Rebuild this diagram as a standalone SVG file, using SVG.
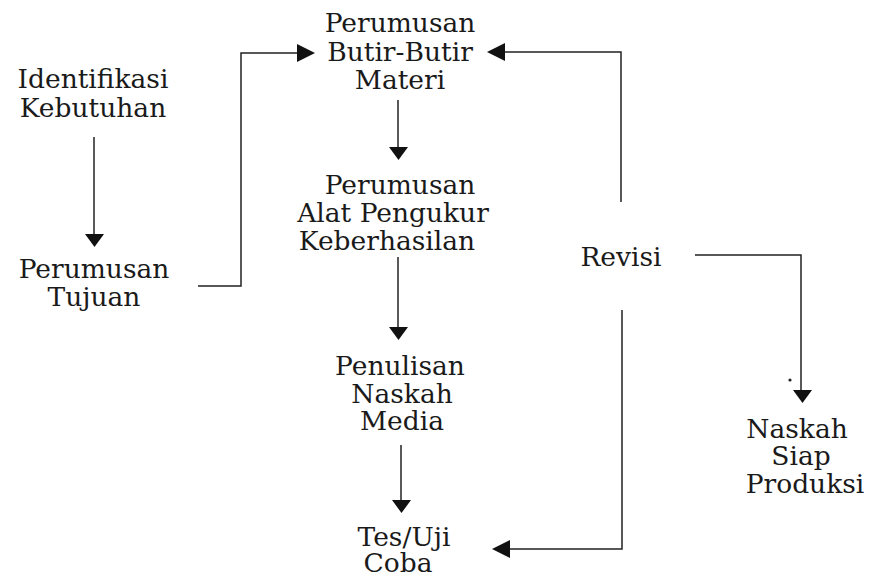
<svg xmlns="http://www.w3.org/2000/svg" width="873" height="577" viewBox="0 0 873 577">
<style>
text{font-family:"DejaVu Serif","Liberation Serif",serif;font-size:26.5px;fill:#1a1a1a;text-anchor:middle}
.c{fill:none;stroke:#222;stroke-width:1.5}
.h{fill:#111}
</style>
<rect width="873" height="577" fill="#fff"/>
<g id="n1"><text x="93" y="88">Identifikasi</text><text x="93" y="117">Kebutuhan</text></g>
<g id="n2"><text x="94" y="278">Perumusan</text><text x="94" y="306">Tujuan</text></g>
<g id="n3"><text x="400" y="32">Perumusan</text><text x="400" y="61">Butir-Butir</text><text x="400" y="89">Materi</text></g>
<g id="n4"><text x="400" y="194">Perumusan</text><text x="393" y="222">Alat Pengukur</text><text x="387" y="250">Keberhasilan</text></g>
<g id="n5"><text x="400" y="375">Penulisan</text><text x="402" y="403">Naskah</text><text x="402" y="430">Media</text></g>
<g id="n6"><text x="404" y="546">Tes/Uji</text><text x="398" y="572">Coba</text></g>
<g id="n7"><text x="621" y="266">Revisi</text></g>
<g id="n8"><text x="797" y="438">Naskah</text><text x="801" y="465">Siap</text><text x="805" y="493">Produksi</text></g>
<g id="connectors">
<path class="c" d="M94 137V236"/><path class="h" d="M85 234H104L94.5 247Z"/>
<path class="c" d="M198 286H241V53H300"/><path class="h" d="M297 44V62L315 53Z"/>
<path class="c" d="M398 100V149"/><path class="h" d="M389 147H408L398.5 160Z"/>
<path class="c" d="M398 257V329"/><path class="h" d="M389 327H408L398.5 340Z"/>
<path class="c" d="M401 445V502"/><path class="h" d="M392 500H411L401.5 513Z"/>
<path class="c" d="M621 202V52H503"/><path class="h" d="M505 43V61L487 52Z"/>
<path class="c" d="M622 310V549H508"/><path class="h" d="M510 540V558L492 549Z"/>
<path class="c" d="M695 255H801V392"/><path class="h" d="M793 390H812L802.5 403Z"/>
<circle cx="790" cy="380" r="1.6" fill="#222"/>
</g>
</svg>
